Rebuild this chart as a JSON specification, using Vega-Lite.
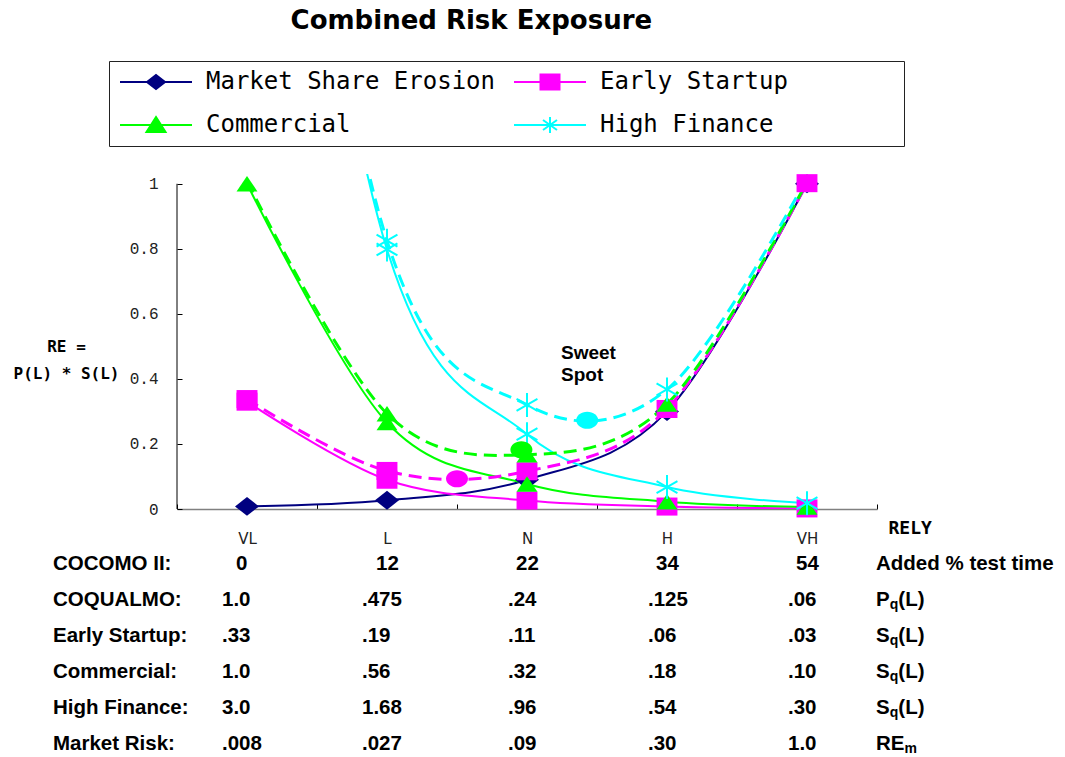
{
  "$schema": "https://vega.github.io/schema/vega-lite/v6.json",
  "padding": {"left": 13, "top": 7, "right": 5, "bottom": 0},
  "title": {"text": "Combined Risk Exposure", "font": "DejaVu Sans", "fontSize": 26, "fontWeight": "bold", "color": "#000000", "anchor": "middle", "frame": "bounds", "dx": -62, "offset": 27},
  "spacing": 55,
  "bounds": "flush",
  "resolve": {"scale": {"x": "independent", "y": "independent"}},
  "config": {"view": {"stroke": null}},
  "datasets": {
    "curves": [
      {"series": "Market Share Erosion", "kind": "solid", "rely": 1, "re": 0.008},
      {"series": "Market Share Erosion", "kind": "solid", "rely": 2, "re": 0.027},
      {"series": "Market Share Erosion", "kind": "solid", "rely": 3, "re": 0.09},
      {"series": "Market Share Erosion", "kind": "solid", "rely": 4, "re": 0.30},
      {"series": "Market Share Erosion", "kind": "solid", "rely": 5, "re": 1.0},
      {"series": "Early Startup", "kind": "solid", "rely": 1, "re": 0.33},
      {"series": "Early Startup", "kind": "solid", "rely": 2, "re": 0.09},
      {"series": "Early Startup", "kind": "solid", "rely": 3, "re": 0.026},
      {"series": "Early Startup", "kind": "solid", "rely": 4, "re": 0.0075},
      {"series": "Early Startup", "kind": "solid", "rely": 5, "re": 0.0018},
      {"series": "Early Startup", "kind": "dashed", "rely": 1, "re": 0.338},
      {"series": "Early Startup", "kind": "dashed", "rely": 2, "re": 0.117},
      {"series": "Early Startup", "kind": "dashed", "rely": 3, "re": 0.116},
      {"series": "Early Startup", "kind": "dashed", "rely": 4, "re": 0.3075},
      {"series": "Early Startup", "kind": "dashed", "rely": 5, "re": 1.0018},
      {"series": "Commercial", "kind": "solid", "rely": 1, "re": 1.0},
      {"series": "Commercial", "kind": "solid", "rely": 2, "re": 0.266},
      {"series": "Commercial", "kind": "solid", "rely": 3, "re": 0.077},
      {"series": "Commercial", "kind": "solid", "rely": 4, "re": 0.0225},
      {"series": "Commercial", "kind": "solid", "rely": 5, "re": 0.006},
      {"series": "Commercial", "kind": "dashed", "rely": 1, "re": 1.008},
      {"series": "Commercial", "kind": "dashed", "rely": 2, "re": 0.293},
      {"series": "Commercial", "kind": "dashed", "rely": 3, "re": 0.167},
      {"series": "Commercial", "kind": "dashed", "rely": 4, "re": 0.3225},
      {"series": "Commercial", "kind": "dashed", "rely": 5, "re": 1.006},
      {"series": "High Finance", "kind": "solid", "rely": 1, "re": 3.0},
      {"series": "High Finance", "kind": "solid", "rely": 2, "re": 0.798},
      {"series": "High Finance", "kind": "solid", "rely": 3, "re": 0.23},
      {"series": "High Finance", "kind": "solid", "rely": 4, "re": 0.0675},
      {"series": "High Finance", "kind": "solid", "rely": 5, "re": 0.018},
      {"series": "High Finance", "kind": "dashed", "rely": 1, "re": 3.008},
      {"series": "High Finance", "kind": "dashed", "rely": 2, "re": 0.825},
      {"series": "High Finance", "kind": "dashed", "rely": 3, "re": 0.32},
      {"series": "High Finance", "kind": "dashed", "rely": 4, "re": 0.3675},
      {"series": "High Finance", "kind": "dashed", "rely": 5, "re": 1.018}
    ],
    "sweet": [
      {"series": "Early Startup", "rely": 2.5, "re": 0.093},
      {"series": "Commercial", "rely": 2.96, "re": 0.182},
      {"series": "High Finance", "rely": 3.43, "re": 0.273}
    ],
    "note": [
      {"rely": 3.243, "re": 0.507, "note": "Sweet\nSpot"}
    ],
    "table": [
      {"row": "COCOMO II:", "VL": "0", "L": "12", "N": "22", "H": "34", "VH": "54", "ubase": "Added % test time", "usub": "", "utail": ""},
      {"row": "COQUALMO:", "VL": "1.0", "L": ".475", "N": ".24", "H": ".125", "VH": ".06", "ubase": "P", "usub": "q", "utail": "(L)"},
      {"row": "Early Startup:", "VL": ".33", "L": ".19", "N": ".11", "H": ".06", "VH": ".03", "ubase": "S", "usub": "q", "utail": "(L)"},
      {"row": "Commercial:", "VL": "1.0", "L": ".56", "N": ".32", "H": ".18", "VH": ".10", "ubase": "S", "usub": "q", "utail": "(L)"},
      {"row": "High Finance:", "VL": "3.0", "L": "1.68", "N": ".96", "H": ".54", "VH": ".30", "ubase": "S", "usub": "q", "utail": "(L)"},
      {"row": "Market Risk:", "VL": ".008", "L": ".027", "N": ".09", "H": ".30", "VH": "1.0", "ubase": "RE", "usub": "m", "utail": ""}
    ]
  },
  "vconcat": [
    {
      "width": 700,
      "height": 335,
      "layer": [
        {
          "data": {"values": [{"axisline": "y"}]},
          "mark": {"type": "rule", "color": "#000000", "strokeWidth": 1},
          "encoding": {
            "x": {"datum": 0.5, "type": "quantitative"},
            "y": {"datum": 0, "type": "quantitative"},
            "y2": {"datum": 1}
          }
        },
        {
          "data": {"name": "curves"},
          "transform": [{"filter": "datum.kind == 'solid'"}],
          "mark": {"type": "line", "interpolate": "cardinal", "tension": 0, "clip": true, "strokeWidth": 2},
          "encoding": {
            "x": {
              "field": "rely", "type": "quantitative",
              "scale": {"domain": [0.5, 5.5], "nice": false, "zero": false},
              "axis": {
                "values": [0.5, 1, 1.5, 2, 2.5, 3, 3.5, 4, 4.5, 5, 5.5],
                "labelExpr": "datum.value == 1 ? 'VL' : datum.value == 2 ? 'L' : datum.value == 3 ? 'N' : datum.value == 4 ? 'H' : datum.value == 5 ? 'VH' : ''",
                "labelFont": "DejaVu Sans", "labelFontSize": 15, "labelColor": "#222222",
                "labelPadding": 27, "labelFlush": false, "labelOverlap": false, "labelBound": false,
                "tickSize": -5, "tickColor": "#000000",
                "tickOpacity": {"condition": {"test": "datum.value % 1 === 0", "value": 0}, "value": 1},
                "domainColor": "#808080", "domainWidth": 1.5, "grid": false,
                "title": "RELY", "titleFont": "DejaVu Sans Mono", "titleFontSize": 18, "titleFontWeight": "bold", "titleColor": "#000000",
                "titleX": 711, "titleY": 19, "titleAlign": "left", "titleBaseline": "middle", "titleAngle": 0
              }
            },
            "y": {
              "field": "re", "type": "quantitative",
              "scale": {"domain": [0, 1.03], "nice": false, "zero": true},
              "axis": {
                "values": [0, 0.2, 0.4, 0.6, 0.8, 1],
                "labelExpr": "datum.value == 0 ? '0' : datum.value == 1 ? '1' : format(datum.value, '.1f')",
                "labelFont": "Liberation Mono", "labelFontSize": 16, "labelColor": "#222222",
                "labelPadding": 24, "tickSize": -5, "tickColor": "#000000",
                "domain": false, "grid": false,
                "title": ["RE =", "P(L) * S(L)"], "titleFont": "DejaVu Sans Mono", "titleFontSize": 16, "titleFontWeight": "bold", "titleColor": "#000000",
                "titleAngle": 0, "titleAlign": "center", "titleBaseline": "middle", "titleX": -111, "titleY": 172, "titleLineHeight": 27
              }
            },
            "color": {
              "field": "series", "type": "nominal",
              "scale": {"domain": ["Market Share Erosion", "Early Startup", "Commercial", "High Finance"], "range": ["#000080", "#FF00FF", "#00FF00", "#00FFFF"]},
              "legend": {
                "title": " ", "titleOrient": "right", "titlePadding": 107, "titleFontSize": 1,
                "orient": "none", "legendX": -68, "legendY": -113, "direction": "horizontal",
                "columns": 2, "gridAlign": "all", "columnPadding": 15, "rowPadding": 19,
                "padding": 9, "strokeColor": "#222222", "fillColor": "#FFFFFF",
                "labelFont": "DejaVu Sans Mono", "labelFontSize": 24, "labelColor": "#000000", "labelOffset": 38, "labelLimit": 500,
                "symbolSize": 400, "symbolOffset": 26, "symbolStrokeWidth": 2,
                "encode": {
                  "symbols": {
                    "update": {
                      "shape": {"signal": "datum.value === 'Market Share Erosion' ? 'M-3.6,0H3.6M-0.9,0L0,-0.7L0.9,0L0,0.7Z' : datum.value === 'Early Startup' ? 'M-3.6,0H3.6M-0.95,-0.75H0.95V0.75H-0.95Z' : datum.value === 'Commercial' ? 'M-3.6,0H3.6M0,-0.8L0.95,0.7H-0.95Z' : 'M-3.6,0H3.6M0,-0.8V0.8M-0.7,-0.5L0.7,0.5M-0.7,0.5L0.7,-0.5'"},
                      "fill": {"signal": "scale('color', datum.value)"},
                      "stroke": {"signal": "scale('color', datum.value)"},
                      "strokeWidth": {"value": 2},
                      "opacity": {"value": 1},
                      "fillOpacity": {"value": 1},
                      "strokeOpacity": {"value": 1}
                    }
                  }
                }
              }
            }
          }
        },
        {
          "data": {"name": "curves"},
          "transform": [{"filter": "datum.kind == 'dashed'"}],
          "mark": {"type": "line", "interpolate": "cardinal", "tension": 0, "clip": true, "strokeWidth": 3, "strokeDash": [13, 7]},
          "encoding": {
            "x": {"field": "rely", "type": "quantitative"},
            "y": {"field": "re", "type": "quantitative"},
            "color": {"field": "series", "type": "nominal"}
          }
        },
        {
          "data": {"name": "curves"},
          "transform": [{"filter": "datum.re <= 1.005 && datum.series != 'High Finance'"}],
          "mark": {"type": "point", "filled": true, "opacity": 1, "size": 484},
          "encoding": {
            "x": {"field": "rely", "type": "quantitative"},
            "y": {"field": "re", "type": "quantitative"},
            "color": {"field": "series", "type": "nominal"},
            "shape": {
              "field": "series", "type": "nominal",
              "scale": {"domain": ["Market Share Erosion", "Early Startup", "Commercial"], "range": ["M-1.09,0L0,-0.86L1.09,0L0,0.86Z", "M-0.95,-0.82H0.95V0.82H-0.95Z", "M0,-0.7L0.95,0.7H-0.95Z"]},
              "legend": null
            }
          }
        },
        {
          "data": {"name": "curves"},
          "transform": [{"filter": "datum.re <= 1.005 && datum.series == 'High Finance'"}],
          "mark": {"type": "point", "filled": false, "opacity": 1, "strokeWidth": 2, "size": 576, "shape": "M0,-1V1M-0.87,-0.5L0.87,0.5M-0.87,0.5L0.87,-0.5"},
          "encoding": {
            "x": {"field": "rely", "type": "quantitative"},
            "y": {"field": "re", "type": "quantitative"},
            "color": {"field": "series", "type": "nominal"}
          }
        },
        {
          "data": {"name": "sweet"},
          "mark": {"type": "point", "filled": true, "opacity": 1, "size": 484, "shape": "M-1,0A1,0.78 0 1,1 1,0A1,0.78 0 1,1 -1,0Z"},
          "encoding": {
            "x": {"field": "rely", "type": "quantitative"},
            "y": {"field": "re", "type": "quantitative"},
            "color": {"field": "series", "type": "nominal"}
          }
        },
        {
          "data": {"name": "note"},
          "mark": {"type": "text", "align": "left", "baseline": "top", "font": "Liberation Sans", "fontSize": 19, "fontWeight": "bold", "color": "#000000", "lineBreak": "\n", "lineHeight": 22},
          "encoding": {
            "x": {"field": "rely", "type": "quantitative"},
            "y": {"field": "re", "type": "quantitative"},
            "text": {"field": "note"}
          }
        }
      ]
    },
    {
      "width": 700,
      "height": 180,
      "data": {"name": "table"},
      "encoding": {
        "y": {"field": "row", "type": "nominal", "sort": null,
              "scale": {"type": "point", "padding": 0, "domain": ["COCOMO II:", "COQUALMO:", "Early Startup:", "Commercial:", "High Finance:", "Market Risk:"]},
              "axis": null}
      },
      "layer": [
        {
          "mark": {"type": "text", "align": "left", "baseline": "middle", "font": "Liberation Sans", "fontSize": 20.5, "fontWeight": "bold", "color": "#000000", "dx": -194},
          "encoding": {
            "x": {"datum": "VL", "type": "nominal", "scale": {"type": "point", "domain": ["VL", "L", "N", "H", "VH"], "padding": 0.5}, "axis": null},
            "text": {"field": "row"}
          }
        },
        {
          "transform": [{"fold": ["VL", "L"], "as": ["col", "cell"]}, {"filter": "datum.row != 'COCOMO II:'"}],
          "mark": {"type": "text", "align": "left", "baseline": "middle", "font": "Liberation Sans", "fontSize": 20.5, "fontWeight": "bold", "color": "#000000", "dx": -25},
          "encoding": {
            "x": {"field": "col", "type": "nominal", "axis": null},
            "text": {"field": "cell"}
          }
        },
        {
          "transform": [{"fold": ["N", "H", "VH"], "as": ["col", "cell"]}, {"filter": "datum.row != 'COCOMO II:'"}],
          "mark": {"type": "text", "align": "left", "baseline": "middle", "font": "Liberation Sans", "fontSize": 20.5, "fontWeight": "bold", "color": "#000000", "dx": -19},
          "encoding": {
            "x": {"field": "col", "type": "nominal", "axis": null},
            "text": {"field": "cell"}
          }
        },
        {
          "transform": [{"fold": ["VL", "L", "N", "H", "VH"], "as": ["col", "cell"]}, {"filter": "datum.row == 'COCOMO II:'"}],
          "mark": {"type": "text", "align": "left", "baseline": "middle", "font": "Liberation Sans", "fontSize": 20.5, "fontWeight": "bold", "color": "#000000", "dx": -11},
          "encoding": {
            "x": {"field": "col", "type": "nominal", "axis": null},
            "text": {"field": "cell"}
          }
        },
        {
          "mark": {"type": "text", "align": "left", "baseline": "middle", "font": "Liberation Sans", "fontSize": 20.5, "fontWeight": "bold", "color": "#000000", "dx": 69},
          "encoding": {
            "x": {"datum": "VH", "type": "nominal", "axis": null},
            "text": {"field": "ubase"}
          }
        },
        {
          "transform": [{"filter": "datum.usub == 'q'"}],
          "mark": {"type": "text", "align": "left", "baseline": "middle", "font": "Liberation Sans", "fontSize": 14, "fontWeight": "bold", "color": "#000000", "dx": 82.7, "dy": 5},
          "encoding": {
            "x": {"datum": "VH", "type": "nominal", "axis": null},
            "text": {"field": "usub"}
          }
        },
        {
          "transform": [{"filter": "datum.usub == 'm'"}],
          "mark": {"type": "text", "align": "left", "baseline": "middle", "font": "Liberation Sans", "fontSize": 14, "fontWeight": "bold", "color": "#000000", "dx": 97.5, "dy": 5},
          "encoding": {
            "x": {"datum": "VH", "type": "nominal", "axis": null},
            "text": {"field": "usub"}
          }
        },
        {
          "transform": [{"filter": "datum.utail != ''"}],
          "mark": {"type": "text", "align": "left", "baseline": "middle", "font": "Liberation Sans", "fontSize": 20.5, "fontWeight": "bold", "color": "#000000", "dx": 91.3},
          "encoding": {
            "x": {"datum": "VH", "type": "nominal", "axis": null},
            "text": {"field": "utail"}
          }
        }
      ]
    }
  ]
}
